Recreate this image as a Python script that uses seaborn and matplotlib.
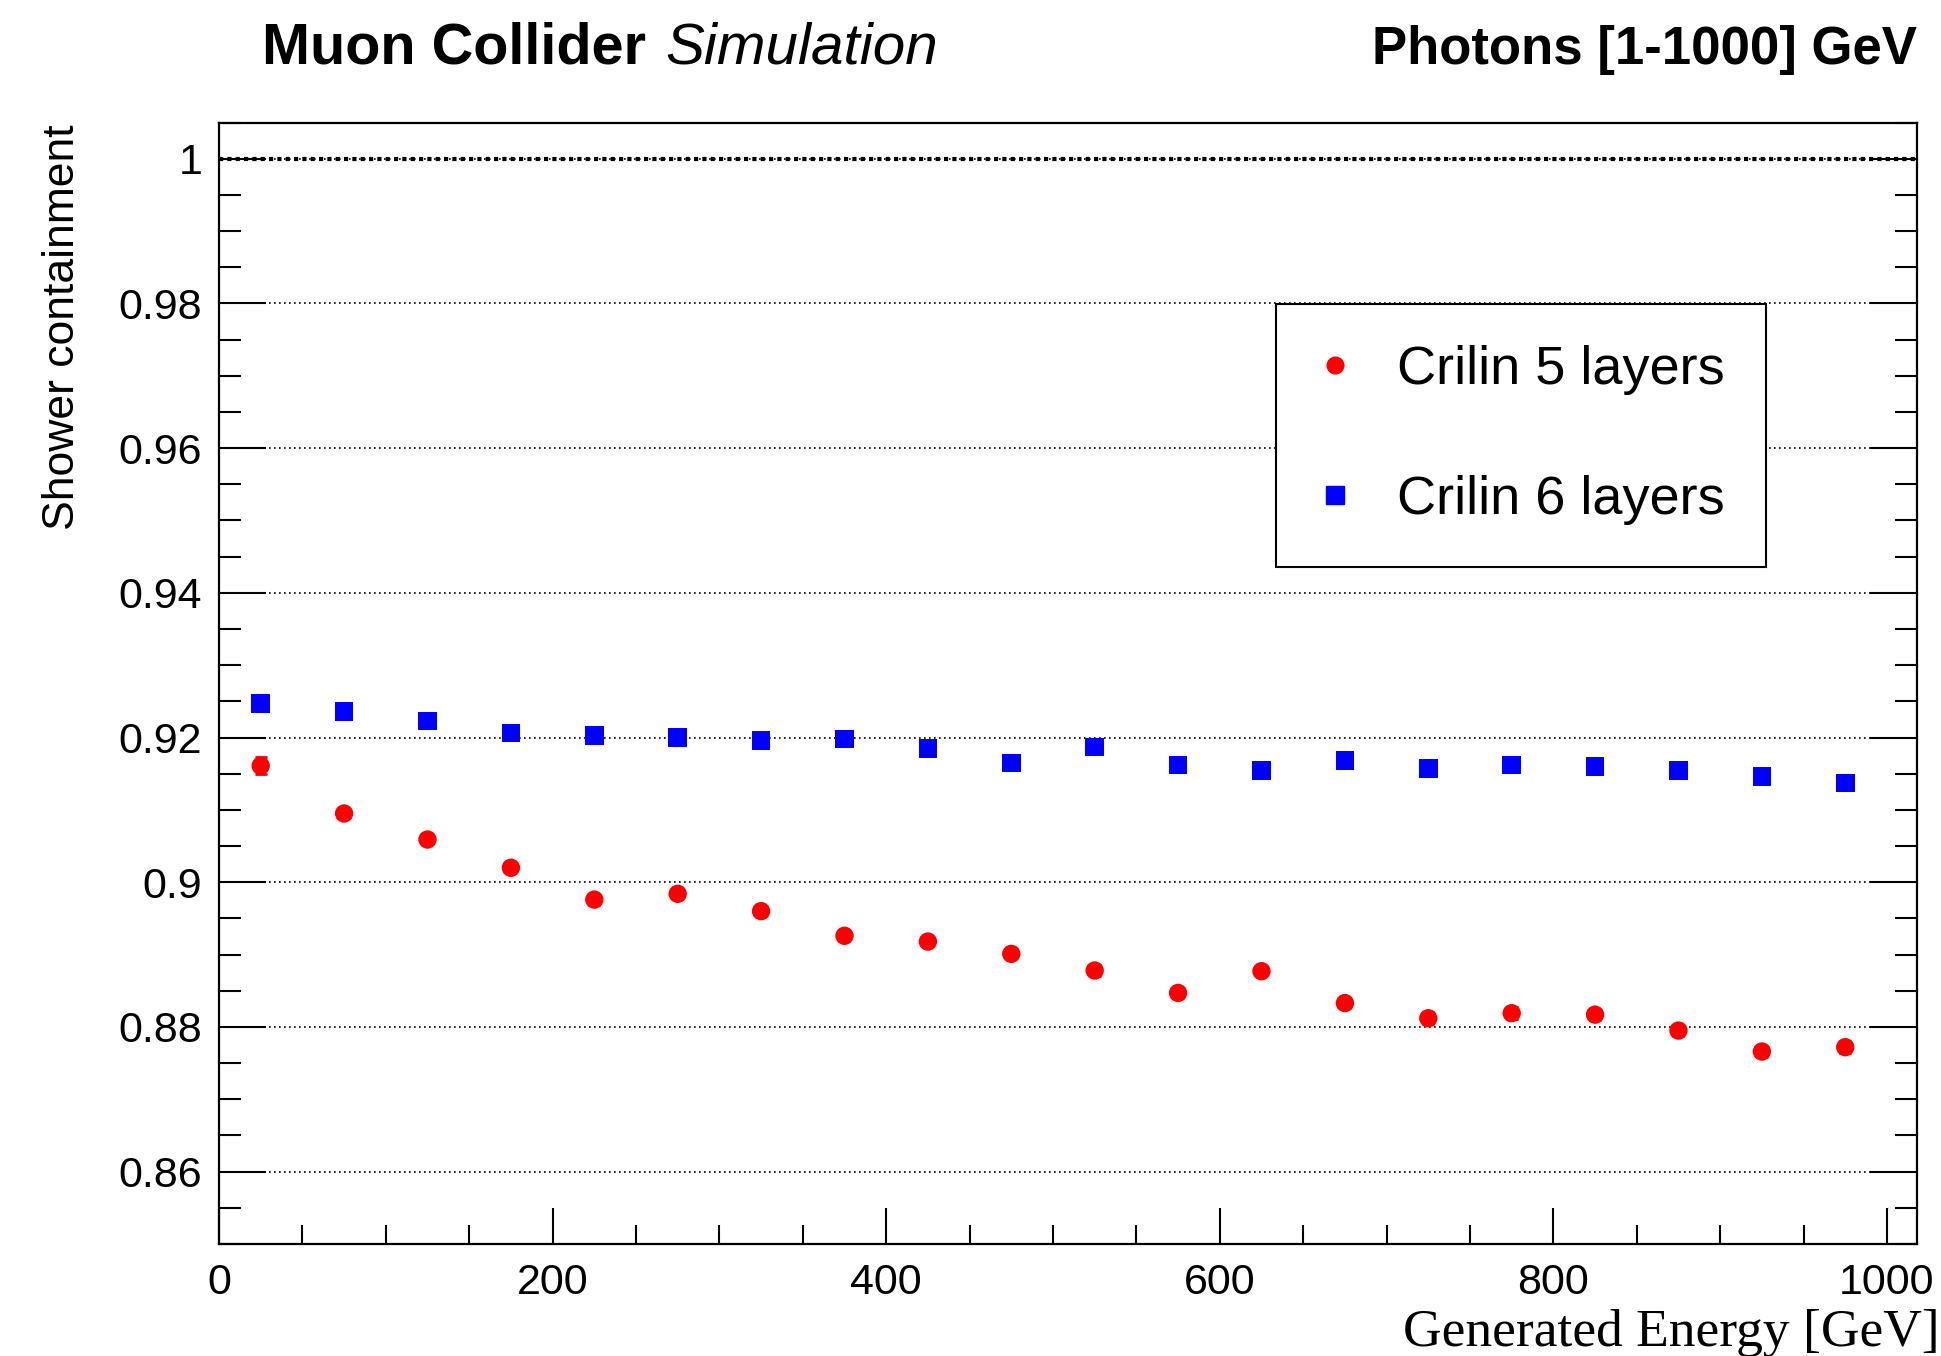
import numpy as np
import pandas as pd
import matplotlib
matplotlib.use("Agg")
import matplotlib.pyplot as plt
import seaborn as sns
from matplotlib.ticker import MultipleLocator, FixedLocator, FuncFormatter
from matplotlib.lines import Line2D

# ---------------- data ----------------
energy = [25, 75, 125, 175, 225, 275, 325, 375, 425, 475,
          525, 575, 625, 675, 725, 775, 825, 875, 925, 975]
crilin5 = [0.9161, 0.9095, 0.9059, 0.9020, 0.8976, 0.8984, 0.8960, 0.8926, 0.8918, 0.8901,
           0.8878, 0.8847, 0.8877, 0.8833, 0.8812, 0.8819, 0.8817, 0.8795, 0.8766, 0.8772]
crilin5_err = [0.0012, 0.0005, 0.0005, 0.0005, 0.0007, 0.0005, 0.0005, 0.0007, 0.0005, 0.0005,
               0.0007, 0.0007, 0.0005, 0.0007, 0.0008, 0.0008, 0.0008, 0.0007, 0.0008, 0.0008]
crilin6 = [0.9247, 0.9236, 0.9223, 0.9206, 0.9203, 0.9200, 0.9196, 0.9198, 0.9185, 0.9165,
           0.9187, 0.9162, 0.9154, 0.9168, 0.9157, 0.9162, 0.9160, 0.9154, 0.9146, 0.9137]
crilin6_err = [0.0002] * 20
series_labels = ["Crilin 5 layers", "Crilin 6 layers"]
series_colors = ["#ff0000", "#0000ff"]
series_markers = ["o", "s"]
x_ticks = [0, 200, 400, 600, 800, 1000]
y_ticks = [0.86, 0.88, 0.90, 0.92, 0.94, 0.96, 0.98, 1.0]

# ---------------- style ----------------
sns.set_style("white")
plt.rcParams['font.family'] = ['Liberation Sans', 'DejaVu Sans']
plt.rcParams['text.color'] = 'black'
plt.rcParams['axes.labelcolor'] = 'black'
plt.rcParams['xtick.color'] = 'black'
plt.rcParams['ytick.color'] = 'black'

W, H = 1941, 1356
fig = plt.figure(figsize=(W / 100, H / 100), dpi=100)
ax = fig.add_axes([219 / W, 1 - 1244 / H, (1917 - 219) / W, (1244 - 122.5) / H])

df = pd.DataFrame({
    "energy": energy * 2,
    "value": crilin5 + crilin6,
    "series": [series_labels[0]] * len(energy) + [series_labels[1]] * len(energy),
})

# error bars
ax.errorbar(energy, crilin5, yerr=crilin5_err, fmt="none", ecolor=series_colors[0],
            elinewidth=2, capsize=4, capthick=2, zorder=4)
ax.errorbar(energy, crilin6, yerr=crilin6_err, fmt="none", ecolor=series_colors[1],
            elinewidth=2, capsize=4, capthick=2, zorder=4)

sizes = [175, 180]
for lab, col, mk, sz in zip(series_labels, series_colors, series_markers, sizes):
    sns.scatterplot(data=df[df["series"] == lab], x="energy", y="value", color=col,
                    marker=mk, s=sz, edgecolor="none", linewidth=0, ax=ax,
                    legend=False, zorder=5)

ax.set_xlim(0, 1018)
ax.set_ylim(0.85, 1.005)
ax.set_xlabel("")
ax.set_ylabel("")

ax.xaxis.set_major_locator(FixedLocator(x_ticks))
ax.xaxis.set_minor_locator(MultipleLocator(50))
ax.yaxis.set_major_locator(FixedLocator(y_ticks))
ax.yaxis.set_minor_locator(MultipleLocator(0.005))
ax.yaxis.set_major_formatter(FuncFormatter(lambda v, p: "%g" % round(v, 3)))

ax.tick_params(axis="both", which="both", direction="in", colors="black",
               labelsize=31, width=1.5)
ax.tick_params(axis="y", which="both", left=True, right=True)
ax.tick_params(axis="x", which="both", bottom=True, top=False)
ax.tick_params(axis="y", which="major", length=34, pad=12)
ax.tick_params(axis="y", which="minor", length=16)
ax.tick_params(axis="x", which="major", length=26, pad=14)
ax.tick_params(axis="x", which="minor", length=14)

for sp in ax.spines.values():
    sp.set_visible(True)
    sp.set_color("black")
    sp.set_linewidth(1.6)

# grid
ax.yaxis.grid(True, which="major", linestyle=(0, (1, 2)), color="black", linewidth=1.2)
ax.xaxis.grid(False)
ax.axhline(1.0, linestyle=(0, (1, 1)), color="black", linewidth=3, zorder=3)

# legend
handles = [Line2D([], [], linestyle="none", marker=m, color=c, markersize=ms)
           for m, c, ms in zip(series_markers, series_colors, [12, 12.5])]
leg = ax.legend(handles, series_labels, loc="upper left",
                bbox_to_anchor=((1276 - 219) / (1917 - 219), (1244 - 304) / 1121.5),
                fontsize=39, frameon=True, fancybox=False, framealpha=1,
                edgecolor="black", borderpad=0.76, labelspacing=1.48,
                handletextpad=0.8, handlelength=0.67, borderaxespad=0)
leg.get_frame().set_linewidth(1.5)

# titles and labels
renderer = fig.canvas.get_renderer()
t1 = fig.text(262 / W, 1 - 64 / H, "Muon Collider", fontsize=41.5, fontweight="bold",
              ha="left", va="baseline")
bb = t1.get_window_extent(renderer)
fig.text((bb.x1 + 19) / W, 1 - 64 / H, "Simulation", fontsize=42, fontstyle="italic",
         ha="left", va="baseline")
fig.text(1917 / W, 1 - 64 / H, "Photons [1-1000] GeV", fontsize=38, fontweight="bold",
         ha="right", va="baseline")
fig.text(1940 / W, 1 - 1346 / H, "Generated Energy [GeV]", fontsize=38.5,
         family=["Liberation Serif", "DejaVu Serif"], ha="right", va="baseline")
fig.text(63 / W, 1 - 124 / H, "Shower containment", fontsize=32, rotation=90,
         ha="center", va="top")

fig.savefig("out.png", dpi=100, facecolor="white")
